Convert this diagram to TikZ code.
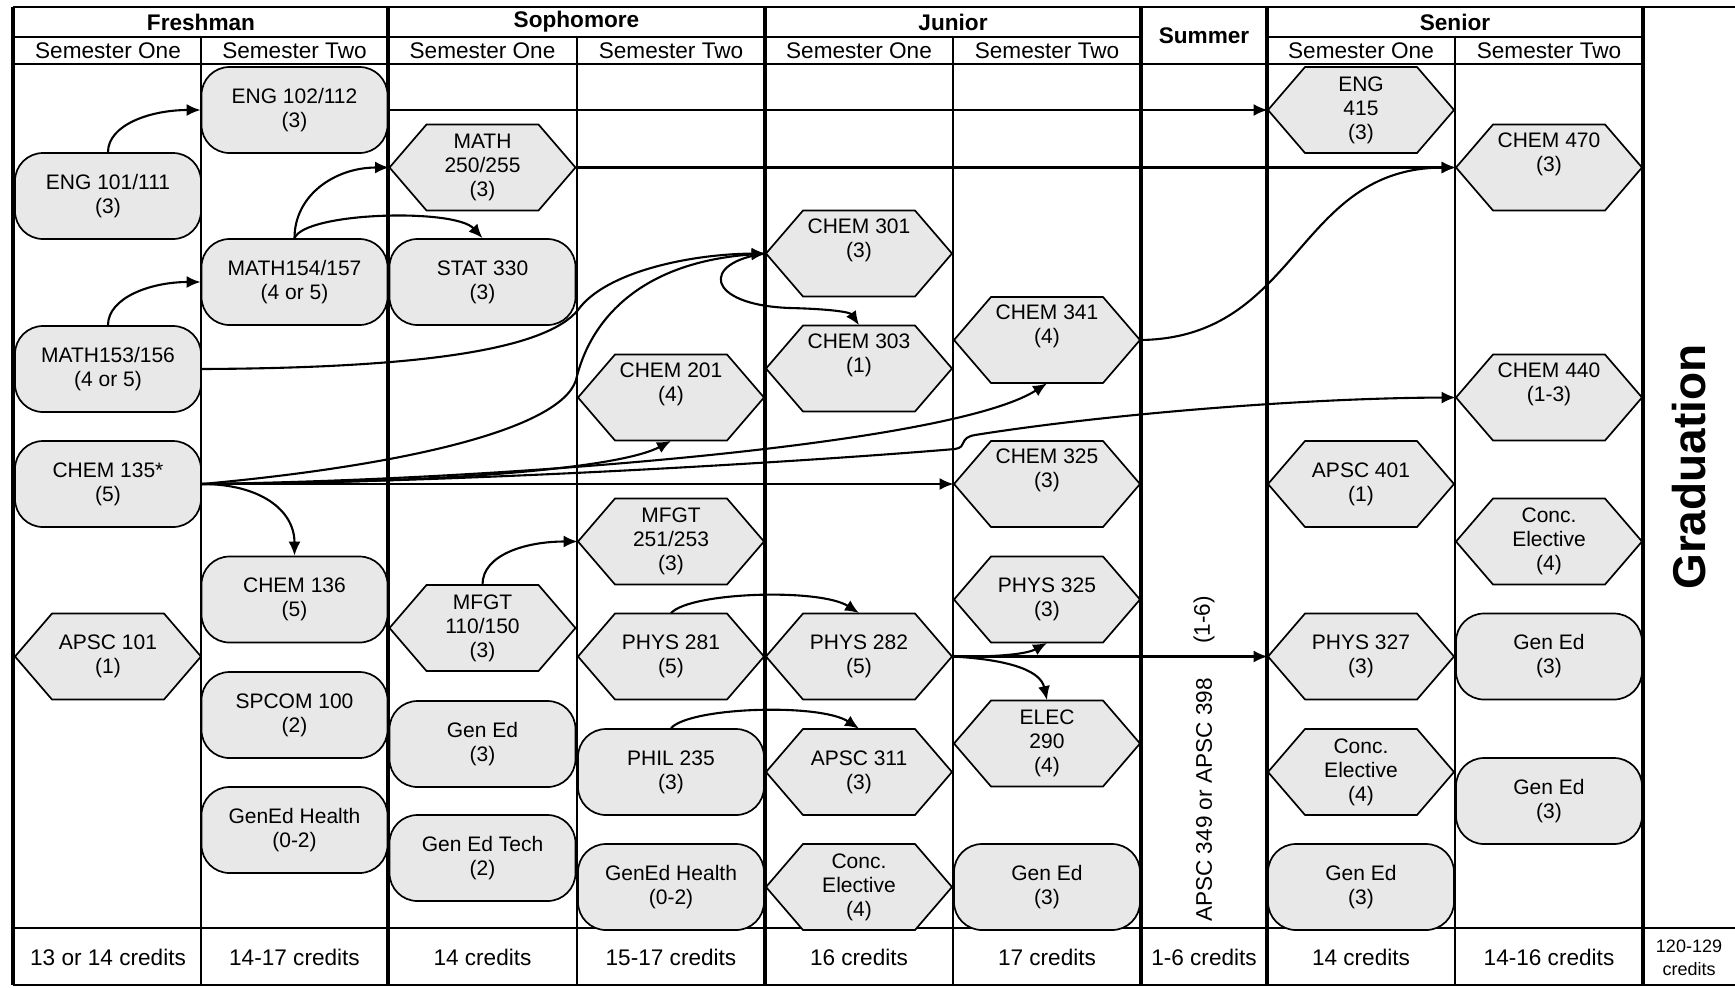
\documentclass[tikz,border=0pt]{standalone}
\usepackage{fontspec}
\setmainfont{Liberation Sans}
\usetikzlibrary{calc,arrows.meta}
\definecolor{boxgray}{gray}{0.91}
\tikzset{
  thickrule/.style={line width=1.7pt},
  thinrule/.style={line width=0.9pt},
  hdr/.style={font=\fontsize{11.3}{13}\selectfont},
  yearhdr/.style={font=\fontsize{11.3}{13}\selectfont\bfseries},
  course/.style={minimum width=93pt,minimum height=43pt,inner sep=0pt,align=center,font=\fontsize{10.5}{12}\selectfont},
  roundbox/.style={course,draw,line width=0.85pt,fill=boxgray,rounded corners=14pt},
  hexfill/.style={draw,line width=0.85pt,fill=boxgray,line join=miter},
  conn/.style={line width=1.05pt,-{Latex[length=7pt,width=6pt]}},
}
\newcommand\hexcourse[3]{%
  \path[hexfill] ($(#2)+(-93,0)$) -- ++(37,-43) -- ++(112,0) -- ++(37,43) -- ++(-37,43) -- ++(-112,0) -- cycle;
  \node[course] (#1) at (#2) {#3};
}
\begin{document}
\begin{tikzpicture}[x=0.5pt,y=-0.5pt]
\useasboundingbox (0,0) rectangle (1735,987);
% ---------- table ----------
\draw[line width=1.4pt] (13,7) -- (1735,7);
\draw[thinrule] (13,37) -- (1141,37);
\draw[thinrule] (1267,37) -- (1643,37);
\draw[line width=1pt] (13,64) -- (1643,64);
\draw[line width=1pt] (13,928) -- (1735,928);
\draw[line width=1pt] (13,985) -- (1735,985);
\foreach \x in {13,388,765,1141,1267,1643} \draw[thickrule] (\x,7) -- (\x,985);
\foreach \x in {201,577,953,1455} \draw[thinrule] (\x,37) -- (\x,985);
% headers
\node[yearhdr] (hfr) at (201,22) {Freshman};
\node[yearhdr] (hso) at (576.5,22) {Sophomore};
\node[yearhdr] (hju) at (953,22) {Junior};
\node[yearhdr] (hsu) at (1204,36) {Summer};
\node[yearhdr] (hse) at (1455,22) {Senior};
\foreach \x/\t [count=\i] in {108/Semester One,294.5/Semester Two,482.5/Semester One,671/Semester Two,859/Semester One,1047/Semester Two,1361/Semester One,1549/Semester Two}
  \node[hdr] (sem\i) at (\x,51) {\t};
% credits
\foreach \x/\t [count=\i] in {108/13 or 14 credits,294.5/14-17 credits,482.5/14 credits,671/15-17 credits,859/16 credits,1047/17 credits,1204/1-6 credits,1361/14 credits,1549/14-16 credits}
  \node[hdr] (cr\i) at (\x,957) {\t};
\node[align=center,font=\fontsize{9}{11.5}\selectfont] (crtot) at (1689,958) {120-129\\credits};
\node[rotate=90,font=\fontsize{23}{26}\selectfont\bfseries] (grad) at (1689,467) {Graduation};
\node[hdr,rotate=90] (sumcr) at (1204,620) {(1-6)};
\node[hdr,rotate=90] (sumc) at (1204,800) {APSC 349 or APSC 398};
% ---------- courses ----------
% Freshman 1
\node[roundbox] (eng101) at (108,196) {ENG 101/111\\(3)};
\node[roundbox] (math153) at (108,369) {MATH153/156\\(4 or 5)};
\node[roundbox] (chem135) at (108,484) {CHEM 135*\\(5)};
\hexcourse{apsc101}{108,656.5}{APSC 101\\(1)}
% Freshman 2
\node[roundbox] (eng102) at (294.5,110) {ENG 102/112\\(3)};
\node[roundbox] (math154) at (294.5,282) {MATH154/157\\(4 or 5)};
\node[roundbox] (chem136) at (294.5,599.5) {CHEM 136\\(5)};
\node[roundbox] (spcom) at (294.5,715) {SPCOM 100\\(2)};
\node[roundbox] (health1) at (294.5,830) {GenEd Health\\(0-2)};
% Sophomore 1
\hexcourse{math250}{482.5,167.5}{MATH\\250/255\\(3)}
\node[roundbox] (stat330) at (482.5,282) {STAT 330\\(3)};
\hexcourse{mfgt110}{482.5,628}{MFGT\\110/150\\(3)}
\node[roundbox] (gened1) at (482.5,744) {Gen Ed\\(3)};
\node[roundbox] (genedtech) at (482.5,858) {Gen Ed Tech\\(2)};
% Sophomore 2
\hexcourse{chem201}{671,397.5}{CHEM 201\\(4)\\[3.5pt]\mbox{}}
\hexcourse{mfgt251}{671,541.5}{MFGT\\251/253\\(3)}
\hexcourse{phys281}{671,656.5}{PHYS 281\\(5)}
\node[roundbox] (phil235) at (671,772) {PHIL 235\\(3)};
\node[roundbox] (health2) at (671,887) {GenEd Health\\(0-2)};
% Junior 1
\hexcourse{chem301}{859,253.5}{CHEM 301\\(3)\\[3.5pt]\mbox{}}
\hexcourse{chem303}{859,368.5}{CHEM 303\\(1)\\[3.5pt]\mbox{}}
\hexcourse{phys282}{859,656.5}{PHYS 282\\(5)}
\hexcourse{apsc311}{859,772}{APSC 311\\(3)}
\hexcourse{conc1}{859,887}{Conc.\\Elective\\(4)}
% Junior 2
\hexcourse{chem341}{1047,340}{CHEM 341\\(4)\\[3.5pt]\mbox{}}
\hexcourse{chem325}{1047,484}{CHEM 325\\(3)\\[3.5pt]\mbox{}}
\hexcourse{phys325}{1047,599.5}{PHYS 325\\(3)}
\hexcourse{elec290}{1047,743.5}{ELEC\\290\\(4)}
\node[roundbox] (gened2) at (1047,887) {Gen Ed\\(3)};
% Senior 1
\hexcourse{eng415}{1361,110}{ENG\\415\\(3)}
\hexcourse{apsc401}{1361,484}{APSC 401\\(1)}
\hexcourse{phys327}{1361,656.5}{PHYS 327\\(3)}
\hexcourse{conc2}{1361,772}{Conc.\\Elective\\(4)}
\node[roundbox] (gened3) at (1361,887) {Gen Ed\\(3)};
% Senior 2
\hexcourse{chem470}{1549,167.5}{CHEM 470\\(3)\\[3.5pt]\mbox{}}
\hexcourse{chem440}{1549,397.5}{CHEM 440\\(1-3)\\[3.5pt]\mbox{}}
\hexcourse{conc3}{1549,541.5}{Conc.\\Elective\\(4)}
\node[roundbox] (gened4) at (1549,656.5) {Gen Ed\\(3)};
\node[roundbox] (gened5) at (1549,801) {Gen Ed\\(3)};
% ---------- connectors ----------
\draw[conn] (eng101.north) .. controls (108,125) and (150,110) .. (eng102.west);
\draw[conn] (math153.north) .. controls (108,298) and (150,282) .. (math154.west);
\draw[conn] (math154.north) .. controls (294.5,195) and (335,167.5) .. (math250.west);
\draw[conn] (math154.north) .. controls (305,212) and (455,208) .. (stat330.north);
\draw[conn] (eng102.east) -- (eng415.west);
\draw[conn] (math250.east) -- (chem470.west);
\draw[conn] (math153.east) .. controls (420,368) and (545,350) .. (578,310) .. controls (605,272) and (690,254) .. (chem301.west);
\draw[conn] (chem135.east) .. controls (400,466) and (560,430) .. (576,380) .. controls (590,320) and (640,262) .. (chem301.west);
\draw[conn] (chem135.east) .. controls (450,483) and (620,468) .. (chem201.south);
\draw[conn] (chem135.east) .. controls (500,480) and (950,445) .. (chem341.south);
\draw[conn] (chem135.east) .. controls (500,482) and (850,458) .. (955,449) .. controls (968,447) and (958,438) .. (975,435) .. controls (1100,415) and (1300,398) .. (chem440.west);
\draw[conn] (chem135.east) -- (chem325.west);
\draw[conn] (chem135.east) .. controls (260,484) and (294.5,510) .. (chem136.north);
\draw[conn] (mfgt110.north) .. controls (482.5,555) and (525,541.5) .. (mfgt251.west);
\draw[conn] (phys281.north) .. controls (690,592) and (820,588) .. (phys282.north);
\draw[conn] (phil235.north) .. controls (690,707) and (820,703) .. (apsc311.north);
\draw[conn] (phys282.east) -- (phys327.west);
\draw[conn] (phys282.east) .. controls (990,657) and (1025,655) .. (phys325.south);
\draw[conn] (phys282.east) .. controls (1000,659) and (1040,668) .. (elec290.north);
\draw[conn] (chem301.west) .. controls (700,262) and (705,305) .. (790,308) .. controls (830,309) and (850,312) .. (chem303.north);
\draw[conn] (chem341.east) .. controls (1300,338) and (1295,168) .. (chem470.west);
\end{tikzpicture}
\end{document}
